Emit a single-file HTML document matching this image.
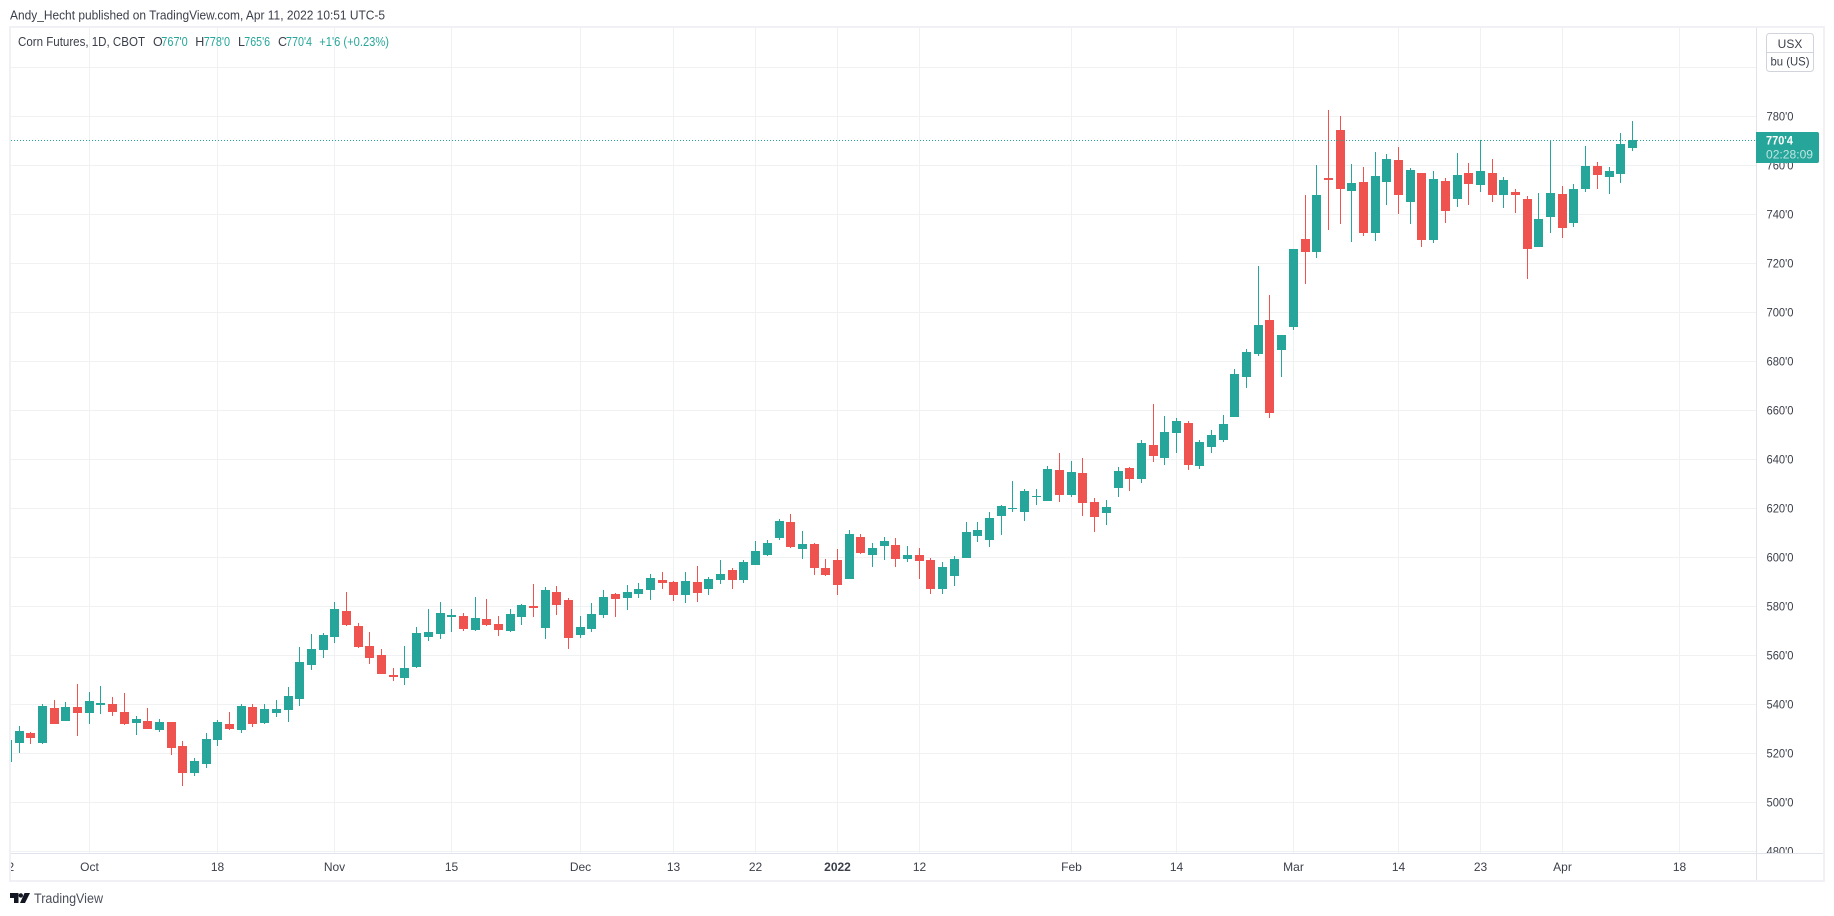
<!DOCTYPE html>
<html lang="en">
<head>
<meta charset="utf-8">
<title>Corn Futures, 1D, CBOT</title>
<style>
html,body{margin:0;padding:0;background:#fff;width:1834px;height:916px;overflow:hidden}
svg{display:block;font-family:"Liberation Sans",sans-serif}
</style>
</head>
<body>
<svg id="chart" xmlns="http://www.w3.org/2000/svg" width="1834" height="916" viewBox="0 0 1834 916">
  <defs>
    <clipPath id="pane-clip"><rect x="11" y="28" width="1745" height="825"/></clipPath>
    <clipPath id="time-clip"><rect x="11" y="854" width="1745" height="26"/></clipPath>
    <clipPath id="price-clip"><rect x="1757" y="28" width="66" height="825"/></clipPath>
  </defs>
  <text x="10" y="19.5" font-size="13" fill="#3b3f4a" textLength="375" lengthAdjust="spacingAndGlyphs">Andy_Hecht published on TradingView.com, Apr 11, 2022 10:51 UTC-5</text>
  <g id="grid" shape-rendering="crispEdges"></g>
  <g id="candles" clip-path="url(#pane-clip)" shape-rendering="crispEdges"></g>
  <line id="last-line" x1="11" x2="1756" stroke="#26a69a" stroke-width="1" stroke-dasharray="1 2" shape-rendering="crispEdges"/>
  <g id="legend" font-size="12.5">
    <text x="18" y="46" fill="#3b3f4a" textLength="127" lengthAdjust="spacingAndGlyphs">Corn Futures, 1D, CBOT</text>
    <text x="153" y="46" fill="#3b3f4a">O</text>
    <text x="161.3" y="46" fill="#26a69a" textLength="26.4" lengthAdjust="spacingAndGlyphs">767'0</text>
    <text x="195.3" y="46" fill="#3b3f4a">H</text>
    <text x="203.7" y="46" fill="#26a69a" textLength="26.4" lengthAdjust="spacingAndGlyphs">778'0</text>
    <text x="238" y="46" fill="#3b3f4a">L</text>
    <text x="244.3" y="46" fill="#26a69a" textLength="25.8" lengthAdjust="spacingAndGlyphs">765'6</text>
    <text x="278" y="46" fill="#3b3f4a">C</text>
    <text x="286" y="46" fill="#26a69a" textLength="26" lengthAdjust="spacingAndGlyphs">770'4</text>
    <text x="319.3" y="46" fill="#26a69a" textLength="69.7" lengthAdjust="spacingAndGlyphs">+1'6 (+0.23%)</text>
  </g>
  <g shape-rendering="crispEdges">
    <rect x="9" y="26" width="1816" height="2" fill="#f0f0f5"/>
    <rect x="9" y="26" width="2" height="856" fill="#f0f0f5"/>
    <rect x="1823" y="26" width="2" height="856" fill="#f0f0f5"/>
    <rect x="9" y="880" width="1816" height="2" fill="#f0f0f5"/>
    <rect x="11" y="853" width="1812" height="1" fill="#e0e3eb"/>
    <rect x="1756" y="28" width="1" height="852" fill="#e0e3eb"/>
  </g>
  <g id="time-axis" clip-path="url(#time-clip)" font-size="12" fill="#3b3f4a" text-anchor="middle"></g>
  <g id="price-axis" clip-path="url(#price-clip)" font-size="12" fill="#3b3f4a"></g>
  <g>
    <path d="M1756 132H1817a2 2 0 0 1 2 2V161a2 2 0 0 1 -2 2H1756Z" fill="#26a69a"/>
    <text id="last-price-text" x="1766" y="144.5" font-size="12" font-weight="bold" fill="#ffffff" textLength="27" lengthAdjust="spacingAndGlyphs">770'4</text>
    <text x="1766" y="158.5" font-size="12" fill="#ffffff" fill-opacity="0.7" textLength="47" lengthAdjust="spacingAndGlyphs">02:28:09</text>
  </g>
  <g>
    <rect x="1766.5" y="33.5" width="47" height="38" rx="3" fill="#ffffff" stroke="#d1d4dc"/>
    <line x1="1767" x2="1813" y1="52.5" y2="52.5" stroke="#d1d4dc"/>
    <text x="1790" y="48" font-size="12" fill="#3b3f4a" text-anchor="middle">USX</text>
    <text x="1790" y="65.5" font-size="12" fill="#3b3f4a" text-anchor="middle" textLength="39" lengthAdjust="spacingAndGlyphs">bu (US)</text>
  </g>
  <g>
    <path d="M10 893H18.5V903H14V898H10Z" fill="#131722"/>
    <circle cx="20.8" cy="895.4" r="2.2" fill="#131722"/>
    <path d="M24.5 893H30L25 903H20Z" fill="#131722"/>
    <text x="34" y="903" font-size="13.5" fill="#4a4e59" textLength="69" lengthAdjust="spacingAndGlyphs">TradingView</text>
  </g>
</svg>
<script>
// Daily bars, oldest first (USX per bushel).
const opens = [516.6,524.2,528.3,524.2,538.5,533.2,538.9,536.4,539.7,540.1,536.9,532.4,533.2,529.5,532.8,523.0,512.0,515.6,525.4,532.0,
529.5,538.9,532.4,536.4,537.7,542.2,556.0,562.2,567.5,578.1,572.0,563.8,560.1,552.0,550.7,555.2,567.5,568.7,575.6,576.0,
570.3,574.8,572.8,569.9,575.6,580.1,571.1,585.8,582.6,568.3,570.7,576.4,585.0,583.4,585.0,586.7,590.7,589.9,584.6,589.9,
587.1,590.7,594.8,590.7,596.9,600.9,607.9,614.4,603.4,605.4,595.6,598.9,591.1,608.3,600.9,604.6,605.0,599.3,600.9,598.9,
587.1,592.4,599.7,608.7,607.1,616.9,619.7,618.5,624.6,623.0,635.6,625.4,634.4,622.6,618.1,628.3,636.4,632.0,645.8,640.5,
650.7,654.8,637.3,645.0,647.9,657.3,673.6,683.0,696.9,684.6,694.0,729.9,724.6,754.8,774.4,749.5,753.2,732.4,753.2,762.2,
745.0,756.9,729.5,753.6,746.2,756.9,752.0,756.9,747.9,749.1,746.2,726.6,738.9,748.3,736.4,750.3,759.7,755.2,756.4,767.0];
const highs = [525.4,531.1,528.7,540.1,541.8,540.9,548.3,545.0,547.5,543.0,544.6,535.2,538.5,534.0,532.8,525.0,518.1,528.3,533.6,536.9,
540.1,540.1,540.1,541.8,547.1,563.4,568.7,569.1,581.8,585.8,573.2,569.5,562.6,554.8,563.8,571.6,578.9,581.8,578.9,577.3,
583.8,583.0,576.0,578.9,580.9,589.1,587.9,588.3,583.4,576.0,581.3,586.7,585.4,588.7,589.5,593.2,594.0,590.3,594.0,596.5,
592.0,598.9,595.6,598.9,606.7,607.1,615.6,617.7,610.7,605.8,599.3,603.4,611.1,609.5,605.8,608.3,607.9,604.6,603.8,599.7,
598.1,600.5,614.4,614.4,618.5,621.3,631.1,627.9,627.9,637.3,642.6,639.3,640.5,624.2,623.4,636.9,636.9,647.9,662.6,657.7,
656.9,655.6,647.9,652.0,658.1,676.9,685.0,718.9,707.1,690.7,725.8,747.9,760.1,782.6,780.1,760.5,759.3,765.4,764.6,767.5,
758.9,756.9,757.7,754.8,765.0,760.9,770.3,762.6,755.2,750.3,747.5,748.7,769.9,751.5,752.4,767.9,761.3,759.3,773.2,778.0];
const lows = [516.6,520.3,523.8,523.8,532.0,533.2,527.1,532.0,536.0,535.2,531.6,527.5,529.9,528.7,519.3,506.7,510.7,514.0,523.0,529.5,
528.3,530.7,532.0,534.8,532.8,539.3,554.0,558.9,565.0,572.0,563.0,556.4,552.4,549.5,547.9,554.8,565.8,566.7,569.5,569.9,
569.9,572.0,567.9,569.5,572.4,575.6,566.7,576.4,562.6,567.1,569.5,575.2,575.6,578.5,583.4,582.6,587.1,582.2,581.3,581.8,
584.6,589.1,587.1,589.5,596.9,600.5,607.1,603.8,599.3,592.8,592.4,584.6,591.1,601.3,596.0,598.9,596.0,598.1,591.1,585.0,
585.0,588.3,599.7,606.2,604.2,609.1,618.5,614.8,621.3,623.0,622.6,624.6,616.9,610.3,613.2,624.6,627.1,630.3,638.9,637.7,
642.6,635.6,636.0,642.6,647.1,657.3,669.1,682.2,656.9,673.6,692.8,711.5,722.2,733.6,736.0,728.7,731.1,729.1,743.8,740.1,
736.0,726.6,728.3,736.4,743.0,743.8,749.1,745.0,742.6,740.5,713.6,726.6,732.4,730.3,734.8,749.1,750.3,748.3,752.8,765.75];
const closes = [525.4,529.1,526.2,539.3,532.0,538.9,536.4,541.3,540.5,536.9,532.0,534.0,529.9,532.8,522.2,512.0,516.9,525.8,532.8,529.9,
539.3,532.0,538.1,538.1,543.4,557.3,562.6,568.3,578.9,572.4,563.4,558.9,552.4,551.2,554.8,569.1,569.5,577.3,576.4,570.7,
575.2,572.4,570.3,576.9,580.5,579.3,586.7,580.5,567.1,571.6,576.9,583.8,583.0,585.8,587.1,591.6,589.5,584.6,590.3,585.4,
591.1,593.2,590.7,598.1,602.6,605.8,614.8,604.2,605.4,595.6,592.8,588.7,609.5,601.8,603.8,606.7,599.3,600.9,598.5,587.1,
596.0,599.3,610.3,611.1,616.0,620.9,620.1,627.1,625.0,636.0,625.4,634.8,622.2,616.4,620.5,635.2,632.0,646.6,641.3,651.1,
655.6,637.7,647.1,649.9,654.4,674.8,683.8,694.8,658.9,690.7,725.8,724.6,747.9,754.0,750.3,752.8,732.4,755.6,762.6,747.9,
758.1,729.5,754.4,741.3,756.0,752.4,757.7,747.9,754.0,747.9,725.8,738.1,748.7,734.4,750.3,759.7,756.0,757.7,768.7,770.5];
const timeTickLabels = ["22","Oct","18","Nov","15","Dec","13","22","2022","12","Feb","14","Mar","14","23","Apr","18"];
const timeTickBars = [0,7,18,28,38,49,57,64,71,78,91,100,110,119,126,133,143];
const priceTickValues = [800,780,760,740,720,700,680,660,640,620,600,580,560,540,520,500,480];
const priceTickLabels = ["800'0","780'0","760'0","740'0","720'0","700'0","680'0","660'0","640'0","620'0","600'0","580'0","560'0","540'0","520'0","500'0","480'0"];
const lastPrice = 770.5;

const NS = "http://www.w3.org/2000/svg";
const UP = "#26a69a";
const DOWN = "#ef5350";
const GRID = "#f0f1f3";
function xAxis(bar){ return 7.47 + 11.69 * bar; }
function yAxis(price){ return 116.3 + (780 - price) * 2.45; }
function make(tag, parent){ const n = document.createElementNS(NS, tag); parent.appendChild(n); return n; }
function setRect(r, x, y, w, h, fill){
  r.setAttribute("x", x); r.setAttribute("y", y);
  r.setAttribute("width", w); r.setAttribute("height", h);
  r.setAttribute("fill", fill);
}

const gridG = document.getElementById("grid");
priceTickValues.forEach(function(v){
  const r = make("rect", gridG);
  
  
  setRect(r, 11, Math.floor(yAxis(v)), 1745, 1, GRID);
});
timeTickBars.forEach(function(b, i){
  if (i === 0) return;
  const r = make("rect", gridG);
  
  
  setRect(r, Math.floor(xAxis(b)), 28, 1, 825, GRID);
});

const candleG = document.getElementById("candles");
opens.forEach(function(o, i){
  const h = highs[i], l = lows[i], c = closes[i];
  const color = c >= o ? UP : DOWN;
  const px = Math.floor(xAxis(i));
  const g = make("g", candleG);
  
  
  const wick = make("rect", g);
  
  
  const wt = Math.round(yAxis(h)), wb = Math.round(yAxis(l));
  setRect(wick, px, wt, 1, Math.max(1, wb - wt), color);
  const body = make("rect", g);
  
  
  const bt = Math.round(yAxis(Math.max(o, c))), bb = Math.round(yAxis(Math.min(o, c)));
  setRect(body, px - 4, bt, 9, Math.max(1, bb - bt), color);
});

const lastLine = document.getElementById("last-line");
const lastY = Math.round(yAxis(lastPrice)) + 0.5;
lastLine.setAttribute("y1", lastY);
lastLine.setAttribute("y2", lastY);

const timeG = document.getElementById("time-axis");
timeTickBars.forEach(function(b, i){
  const t = make("text", timeG);
  
  
  t.setAttribute("x", Math.floor(xAxis(b)) + 0.5);
  t.setAttribute("y", 871);
  if (timeTickLabels[i] === "2022") t.setAttribute("font-weight", "bold");
  t.textContent = timeTickLabels[i];
});

const priceG = document.getElementById("price-axis");
priceTickValues.forEach(function(v, i){
  if (v === 800) return;
  const t = make("text", priceG);
  
  
  t.setAttribute("x", 1766.5);
  t.setAttribute("y", Math.floor(yAxis(v)) + 4.5);
  t.setAttribute("textLength", "27");
  t.setAttribute("lengthAdjust", "spacingAndGlyphs");
  t.textContent = priceTickLabels[i];
});
</script>
</body>
</html>
